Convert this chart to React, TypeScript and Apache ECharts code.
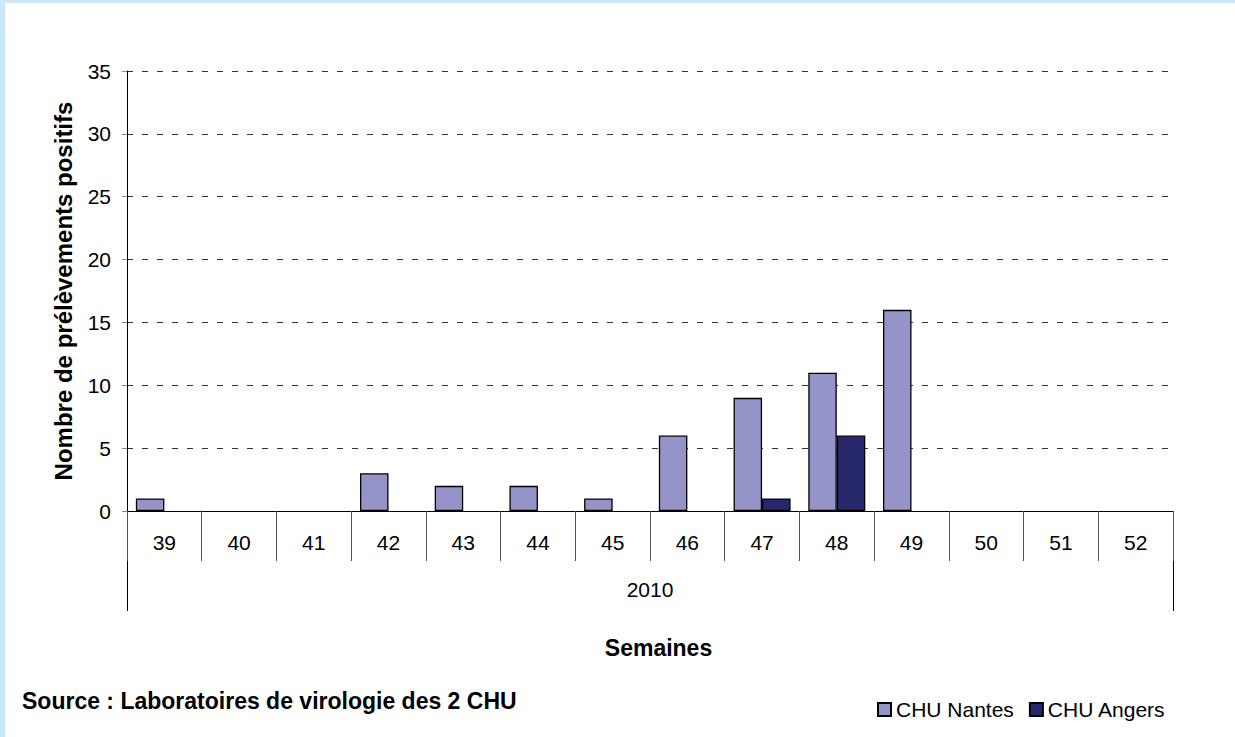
import React, { useEffect, useRef } from "react";
import * as echarts from "echarts";

const weeks = ["39", "40", "41", "42", "43", "44", "45", "46", "47", "48", "49", "50", "51", "52"];
const yearLabels = ["2010"];
const nantes = [1, 0, 0, 3, 2, 2, 1, 6, 9, 11, 16, 0, 0, 0];
const angers = [0, 0, 0, 0, 0, 0, 0, 0, 1, 6, 0, 0, 0, 0];
const seriesNames = ["CHU Nantes", "CHU Angers"];

const FONT = "'Liberation Sans', Arial, sans-serif";

const toBarData = (arr: number[]) =>
  arr.map((v) => (v === 0 ? { value: v, itemStyle: { borderWidth: 0 } } : v));

export default function App() {
  const ref = useRef<HTMLDivElement>(null);
  useEffect(() => {
    if (!ref.current) return;
    const chart = echarts.init(ref.current, undefined, { renderer: "svg" });
    chart.setOption({
      animation: false,
      backgroundColor: "#ffffff",
      textStyle: { fontFamily: FONT },
      grid: { left: 122, right: 62, top: 68, bottom: 226, containLabel: false },
      legend: {
        left: 867,
        top: 691,
        itemWidth: 13,
        itemHeight: 13,
        itemGap: 15,
        icon: "rect",
        textStyle: { fontSize: 21, color: "#000", fontFamily: FONT },
        data: seriesNames,
      },
      xAxis: [
        {
          type: "category",
          data: weeks,
          position: "bottom",
          axisLine: { show: true, lineStyle: { color: "#000", width: 1 } },
          axisTick: { show: true, length: 50, interval: 0, lineStyle: { color: "#555" } },
          axisLabel: { interval: 0, fontSize: 21, color: "#000", margin: 21, fontFamily: FONT },
          splitLine: { show: false },
        },
        {
          type: "category",
          data: yearLabels,
          position: "bottom",
          offset: 50,
          axisLine: { show: false },
          axisTick: { show: true, length: 50, lineStyle: { color: "#000" } },
          axisLabel: { fontSize: 21, color: "#000", margin: 18, fontFamily: FONT },
          splitLine: { show: false },
        },
      ],
      yAxis: {
        type: "value",
        min: 0,
        max: 35,
        interval: 5,
        name: "Nombre de prélèvements positifs",
        nameLocation: "middle",
        nameGap: 52,
        nameTextStyle: { fontSize: 24, fontWeight: "bold", color: "#000", fontFamily: FONT },
        axisLine: { show: true, lineStyle: { color: "#000", width: 1 } },
        axisTick: { show: true, length: 5, lineStyle: { color: "#888" } },
        axisLabel: { fontSize: 21, color: "#000", margin: 16, fontFamily: FONT },
        splitLine: { show: true, lineStyle: { color: "#333", type: [6, 9], width: 1 } },
      },
      series: [
        {
          name: seriesNames[0],
          type: "bar",
          data: toBarData(nantes),
          barWidth: 28.5,
          barGap: "0%",
          itemStyle: { color: "#9494c8", borderColor: "#000", borderWidth: 1.3 },
        },
        {
          name: seriesNames[1],
          type: "bar",
          data: toBarData(angers),
          barWidth: 28.5,
          barGap: "0%",
          itemStyle: { color: "#27276b", borderColor: "#000", borderWidth: 1.3 },
        },
      ],
      graphic: [
        {
          type: "text",
          x: 653.5,
          y: 645,
          style: {
            text: "Semaines",
            fontSize: 23,
            fontWeight: "bold",
            fill: "#000",
            fontFamily: FONT,
            align: "center",
            verticalAlign: "middle",
          },
        },
        {
          type: "text",
          x: 17,
          y: 698,
          style: {
            text: "Source : Laboratoires de virologie des 2 CHU",
            fontSize: 23,
            fontWeight: "bold",
            fill: "#000",
            fontFamily: FONT,
            align: "left",
            verticalAlign: "middle",
          },
        },
      ],
    });
    return () => chart.dispose();
  }, []);

  return (
    <div
      style={{
        position: "fixed",
        left: 0,
        top: 0,
        width: 1235,
        height: 737,
        background: "#cbe7f9",
      }}
    >
      <div
        ref={ref}
        style={{ position: "absolute", left: 5, top: 3, width: 1230, height: 734, background: "#fff" }}
      />
    </div>
  );
}
